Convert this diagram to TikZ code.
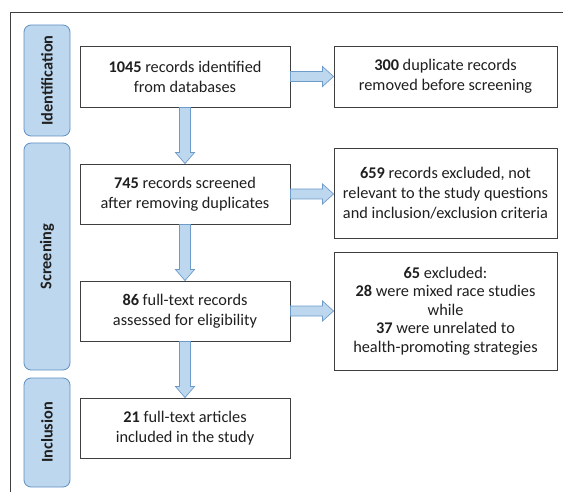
\documentclass[tikz,border=0pt]{standalone}
\usepackage{fontspec}
\setmainfont{Carlito}
\usetikzlibrary{calc}
\definecolor{flowfill}{HTML}{BDD7EE}
\definecolor{flowedge}{HTML}{6D9BC9}
\definecolor{pilledge}{HTML}{5F8FC2}
\definecolor{boxedge}{HTML}{3F3F3F}
\definecolor{ink}{HTML}{1F1F1F}
\tikzset{
  stagebox/.style={draw=boxedge, line width=0.9pt, fill=white, align=center,
    text=ink, font=\fontsize{16.3}{20}\selectfont, inner sep=0pt},
  mainbox/.style={stagebox, minimum width=210pt, minimum height=60pt},
  sidebox/.style={stagebox, minimum width=223pt},
  phase/.style={draw=pilledge, line width=0.8pt, fill=flowfill, rounded corners=7pt,
    minimum width=46pt, inner sep=0pt},
  phasetext/.style={rotate=90, text=ink, font=\fontsize{16.3}{18}\selectfont\bfseries},
  fatarrow/.style={draw=flowedge, line width=0.7pt, fill=flowfill, line join=miter},
}
% block arrow pointing down, from the bottom of #1 to the top of #2
\newcommand\flowdown[2]{%
  \path[fatarrow] let \p1=(#1.south), \p2=(#2.north) in
    (\x1-5.5pt,\y1) -- (\x1-5.5pt,\y2+11pt) -- (\x1-9.5pt,\y2+11pt) -- (\x1,\y2)
    -- (\x1+9.5pt,\y2+11pt) -- (\x1+5.5pt,\y2+11pt) -- (\x1+5.5pt,\y1) -- cycle;}
% block arrow pointing right, from the right side of #1 to the left side of #2
\newcommand\flowright[2]{%
  \path[fatarrow] let \p1=(#1.east), \p2=(#2.west) in
    (\x1,\y1+5pt) -- (\x2-11pt,\y1+5pt) -- (\x2-11pt,\y1+10pt) -- (\x2,\y1)
    -- (\x2-11pt,\y1-10pt) -- (\x2-11pt,\y1-5pt) -- (\x1,\y1-5pt) -- cycle;}
\begin{document}
\begin{tikzpicture}[x=1pt,y=-1pt]
\useasboundingbox (0,0) rectangle (563,492);
% open frame: top and left edges only
\draw[boxedge, line width=0.9pt] (563,12) coordinate (frameTR) -- (10,12) coordinate (frameTL) -- (10,492) coordinate (frameBL);

% phase labels
\node[phase, minimum height=111pt] (ident) at (47,80.5) {};
\node[phasetext] (identtxt) at (ident.center) {Identification};
\node[phase, minimum height=227pt] (screen) at (47,256.5) {};
\node[phasetext] (screentxt) at (screen.center) {Screening};
\node[phase, minimum height=109pt] (incl) at (47,432.5) {};
\node[phasetext] (incltxt) at (incl.center) {Inclusion};

% main column
\node[mainbox, minimum height=61pt] (found) at (185,76.5) {\textbf{1045} records identified\\from databases};
\node[mainbox] (screened) at (185,194) {\textbf{745} records screened\\after removing duplicates};
\node[mainbox] (fulltext) at (185,311) {\textbf{86} full-text records\\assessed for eligibility};
\node[mainbox] (included) at (185,428) {\textbf{21} full-text articles\\included in the study};

% exclusions
\node[sidebox, minimum height=61pt] (dups) at (445.5,76.5) {\textbf{300} duplicate records\\removed before screening};
\node[sidebox, minimum height=90pt] (irrel) at (445.5,193) {\textbf{659} records excluded, not\\relevant to the study questions\\and inclusion/exclusion criteria};
\node[sidebox, minimum height=118pt, font=\fontsize{16.3}{18.5}\selectfont] (excl) at (445.5,311) {\textbf{65} excluded:\\\textbf{28} were mixed race studies\\while\\\textbf{37} were unrelated to\\health-promoting strategies};

% connectors
\flowdown{found}{screened}
\flowdown{screened}{fulltext}
\flowdown{fulltext}{included}
\flowright{found}{dups}
\flowright{screened}{irrel}
\flowright{fulltext}{excl}
\end{tikzpicture}
\end{document}
